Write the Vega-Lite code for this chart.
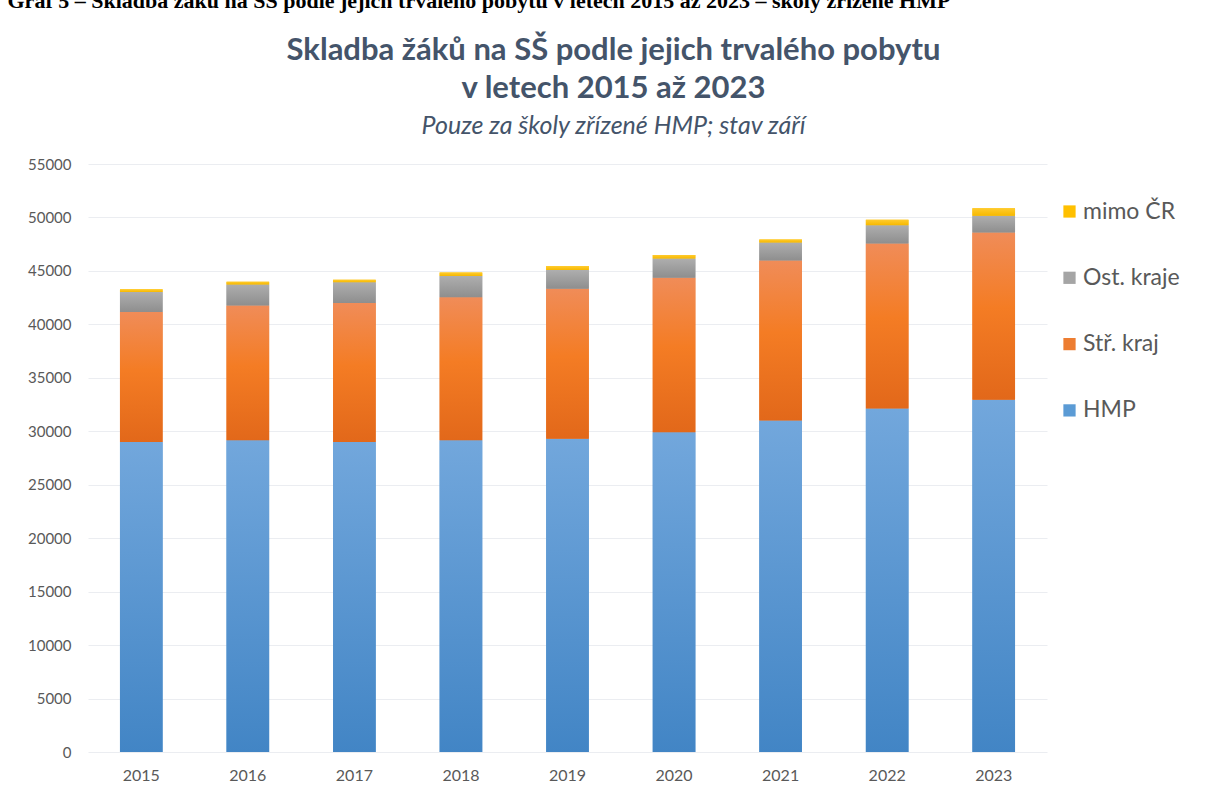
{
  "$schema": "https://vega.github.io/schema/vega-lite/v6.json",
  "width": 959,
  "height": 588,
  "autosize": {"type": "none"},
  "padding": {"left": 88, "top": 164, "right": 159, "bottom": 41},
  "background": "white",
  "config": {"view": {"stroke": null}},
  "title": {
    "text": ["Skladba žáků na SŠ podle jejich trvalého pobytu", "v letech 2015 až 2023"],
    "subtitle": "Pouze za školy zřízené HMP; stav září",
    "anchor": "middle",
    "frame": "group",
    "dx": 46,
    "dy": 168,
    "font": "Lato",
    "fontSize": 31,
    "fontWeight": "bold",
    "color": "#44546A",
    "lineHeight": 38,
    "subtitleFont": "Lato",
    "subtitleFontSize": 25,
    "subtitleFontStyle": "italic",
    "subtitleColor": "#44546A",
    "subtitlePadding": 9,
    "offset": 17
  },
  "data": {
    "values": [
      {"year": "2015", "HMP": 29000, "Stř. kraj": 12150, "Ost. kraje": 1875, "mimo ČR": 250},
      {"year": "2016", "HMP": 29150, "Stř. kraj": 12620, "Ost. kraje": 1970, "mimo ČR": 250},
      {"year": "2017", "HMP": 29000, "Stř. kraj": 12990, "Ost. kraje": 1940, "mimo ČR": 250},
      {"year": "2018", "HMP": 29150, "Stř. kraj": 13380, "Ost. kraje": 2000, "mimo ČR": 320},
      {"year": "2019", "HMP": 29300, "Stř. kraj": 14030, "Ost. kraje": 1750, "mimo ČR": 370},
      {"year": "2020", "HMP": 29900, "Stř. kraj": 14470, "Ost. kraje": 1780, "mimo ČR": 340},
      {"year": "2021", "HMP": 31000, "Stř. kraj": 14970, "Ost. kraje": 1690, "mimo ČR": 280},
      {"year": "2022", "HMP": 32120, "Stř. kraj": 15440, "Ost. kraje": 1720, "mimo ČR": 500},
      {"year": "2023", "HMP": 32960, "Stř. kraj": 15630, "Ost. kraje": 1560, "mimo ČR": 720}
    ]
  },
  "transform": [
    {"fold": ["HMP", "Stř\\. kraj", "Ost\\. kraje", "mimo ČR"], "as": ["series", "value"]},
    {"stack": "value", "groupby": ["year"], "as": ["lo", "hi"]}
  ],
  "encoding": {
    "y": {
      "field": "lo",
      "type": "quantitative",
      "scale": {"domain": [0, 55000], "nice": false},
      "axis": {
        "title": null,
        "values": [0, 5000, 10000, 15000, 20000, 25000, 30000, 35000, 40000, 45000, 50000, 55000],
        "format": "d",
        "grid": true,
        "gridColor": "#EBEDF1",
        "gridWidth": 1,
        "domain": false,
        "ticks": false,
        "labelPadding": 17,
        "labelFont": "Lato",
        "labelFontSize": 15,
        "labelColor": "#595959"
      }
    },
    "y2": {"field": "hi"}
  },
  "layer": [
    {
      "mark": {"type": "bar"},
      "encoding": {
        "x": {
          "field": "year",
          "type": "ordinal",
          "scale": {"paddingInner": 0.6, "paddingOuter": 0.3},
          "axis": {
            "title": null,
            "orient": "bottom",
            "labelAngle": 0,
            "domain": false,
            "ticks": false,
            "labelPadding": 15,
            "labelFont": "Lato",
            "labelFontSize": 16,
            "labelColor": "#595959"
          }
        },
        "color": {
          "field": "series",
          "type": "nominal",
          "scale": {
            "domain": ["mimo ČR", "Ost. kraje", "Stř. kraj", "HMP"],
            "range": ["#FFC000", "#A5A5A5", "#ED7D31", "#5B9BD5"]
          },
          "legend": {
            "title": null,
            "orient": "none",
            "legendX": 970,
            "legendY": 36,
            "padding": 0,
            "symbolType": "square",
            "symbolSize": 150,
            "symbolStrokeWidth": 0,
            "labelFont": "Lato",
            "labelFontSize": 23,
            "labelColor": "#595959",
            "labelOffset": 2,
            "rowPadding": 42.3
          }
        }
      }
    },
    {
      "mark": {"type": "bar", "strokeWidth": 0},
      "encoding": {
        "x": {
          "field": "year",
          "type": "ordinal",
          "axis": {
            "orient": "top",
            "labels": false,
            "ticks": false,
            "domain": false,
            "grid": false,
            "title": "Graf 5 – Skladba žáků na SŠ podle jejich trvalého pobytu v letech 2015 až 2023 – školy zřízené HMP",
            "titleFont": "Liberation Serif",
            "titleFontSize": 22,
            "titleFontWeight": "bold",
            "titleColor": "#000000",
            "titleAnchor": "start",
            "titleAlign": "left",
            "titleBaseline": "alphabetic",
            "titleX": -81,
            "titleY": -157
          }
        },
        "fill": {
          "condition": [
            {"test": "datum.series === 'HMP'", "value": {"gradient": "linear", "x1": 0, "y1": 0, "x2": 0, "y2": 1, "stops": [{"offset": 0, "color": "#72A7DC"}, {"offset": 1, "color": "#4285C5"}]}},
            {"test": "datum.series === 'Stř. kraj'", "value": {"gradient": "linear", "x1": 0, "y1": 0, "x2": 0, "y2": 1, "stops": [{"offset": 0, "color": "#F08C58"}, {"offset": 0.45, "color": "#F47C24"}, {"offset": 1, "color": "#E2681A"}]}},
            {"test": "datum.series === 'Ost. kraje'", "value": {"gradient": "linear", "x1": 0, "y1": 0, "x2": 0, "y2": 1, "stops": [{"offset": 0, "color": "#AEAEAE"}, {"offset": 1, "color": "#8E8E8E"}]}}
          ],
          "value": {"gradient": "linear", "x1": 0, "y1": 0, "x2": 0, "y2": 1, "stops": [{"offset": 0, "color": "#FFCB2E"}, {"offset": 1, "color": "#F6B800"}]}
        }
      }
    }
  ],
  "resolve": {"axis": {"x": "independent"}}
}
